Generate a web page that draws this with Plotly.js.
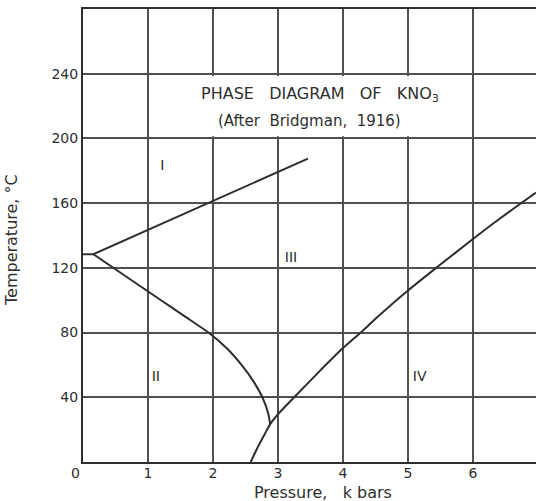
<!DOCTYPE html>
<html>
<head>
<meta charset="utf-8">
<script src="https://cdn.plot.ly/plotly-3.0.1.min.js"></script>
<style>html,body{margin:0;padding:0;background:#fff;}#chart{width:536px;height:501px;}</style>
</head>
<body>
<div id="chart"></div>
<script>
// Data
const pressureTicks = [1, 2, 3, 4, 5, 6];
const tempTicks = [40, 80, 120, 160, 200, 240];

// Boundary I / (II, III): short horizontal then straight line
const boundaryI_P = [0, 0.16, 3.46];
const boundaryI_T = [128.4, 128.4, 187.5];

// Boundary II / III
const boundaryII_P = [0.16, 0.64, 1.2, 1.566, 1.93, 2.22, 2.44, 2.62, 2.76, 2.85, 2.88];
const boundaryII_T = [128.4, 115.3, 100, 90, 80, 70, 60, 50, 40, 30, 23.4];

// Boundary III / IV (and II / IV at bottom)
const boundaryIV_P = [2.58, 2.70, 2.80, 2.88, 3.0, 3.25, 3.6, 4.0, 4.3, 4.5, 5.0, 5.46, 6.0, 6.4, 6.97];
const boundaryIV_T = [0, 10, 17.5, 23.4, 29.5, 40, 54.5, 70.4, 81, 88.5, 106, 120.8, 137.8, 150, 166.5];

// Phase region labels
const regionNames = ['I', 'II', 'III', 'IV'];
const regionP = [1.22, 1.12, 3.2, 5.18];
const regionT = [182.6, 52.5, 125.8, 52.5];

const ink = '#2e2e2e';
const fontFam = 'DejaVu Sans, sans-serif';
const sp = '\u00a0';

const lineStyle = {color: ink, width: 2, shape: 'spline', smoothing: 0.6};

const traces = [
  {x: boundaryI_P, y: boundaryI_T, mode: 'lines', line: {color: ink, width: 2}, hoverinfo: 'skip'},
  {x: boundaryII_P, y: boundaryII_T, mode: 'lines', line: lineStyle, hoverinfo: 'skip'},
  {x: boundaryIV_P, y: boundaryIV_T, mode: 'lines', line: lineStyle, hoverinfo: 'skip'},
  {x: regionP, y: regionT, mode: 'text', text: regionNames,
   textfont: {family: fontFam, size: 14, color: ink}, hoverinfo: 'skip'}
];

const layout = {
  width: 536, height: 501,
  margin: {l: 83, r: 0, t: 9, b: 39},
  paper_bgcolor: '#ffffff', plot_bgcolor: '#ffffff',
  showlegend: false,
  font: {family: fontFam, color: ink},
  xaxis: {
    range: [0, 6.97], tickvals: pressureTicks, ticktext: pressureTicks.map(String),
    showgrid: true, gridcolor: '#505050', gridwidth: 2,
    zeroline: false, showline: true, linecolor: ink, linewidth: 2, mirror: true,
    ticks: '', ticklabelstandoff: -3, tickfont: {family: fontFam, size: 14, color: ink},
    fixedrange: true
  },
  yaxis: {
    range: [0, 280], tickvals: tempTicks, ticktext: tempTicks.map(String),
    showgrid: true, gridcolor: '#505050', gridwidth: 2,
    zeroline: false, showline: true, linecolor: ink, linewidth: 2,
    ticks: '', tickfont: {family: fontFam, size: 14, color: ink},
    fixedrange: true
  },
  shapes: [
    {type: 'rect', xref: 'x', yref: 'y', x0: 1.04, x1: 5.96, y0: 201.4, y1: 238.6,
     fillcolor: '#ffffff', line: {width: 0}, layer: 'above'}
  ],
  annotations: [
    {xref: 'x', yref: 'y', x: 3.646, y: 227, yanchor: 'middle',
     text: 'PHASE' + sp + sp + sp + 'DIAGRAM' + sp + sp + sp + 'OF' + sp + sp + sp + 'KNO<sub>3</sub>',
     showarrow: false, font: {family: fontFam, size: 16, color: ink}},
    {xref: 'x', yref: 'y', x: 3.48, y: 210.5, yanchor: 'middle',
     text: '(After' + sp + sp + 'Bridgman,' + sp + sp + '1916)',
     showarrow: false, font: {family: fontFam, size: 15, color: ink}},
    {xref: 'x', yref: 'paper', x: 0, y: 0, xanchor: 'center', yanchor: 'middle', yshift: -11, xshift: -8, text: '0',
     showarrow: false, font: {family: fontFam, size: 14, color: ink}},
    {xref: 'paper', yref: 'paper', x: (323 - 83) / 453, y: (462 - 493) / 453, xanchor: 'center', yanchor: 'middle',
     text: 'Pressure,' + sp + sp + sp + 'k' + sp + 'bars',
     showarrow: false, font: {family: fontFam, size: 16, color: ink}},
    {xref: 'paper', yref: 'paper', x: (12 - 83) / 453, y: (462 - 240) / 453, xanchor: 'center', yanchor: 'middle',
     text: 'Temperature,' + sp + '°C',
     textangle: -90, showarrow: false, font: {family: fontFam, size: 16, color: ink}}
  ]
};

Plotly.newPlot('chart', traces, layout, {staticPlot: true, displayModeBar: false});
</script>
</body>
</html>
